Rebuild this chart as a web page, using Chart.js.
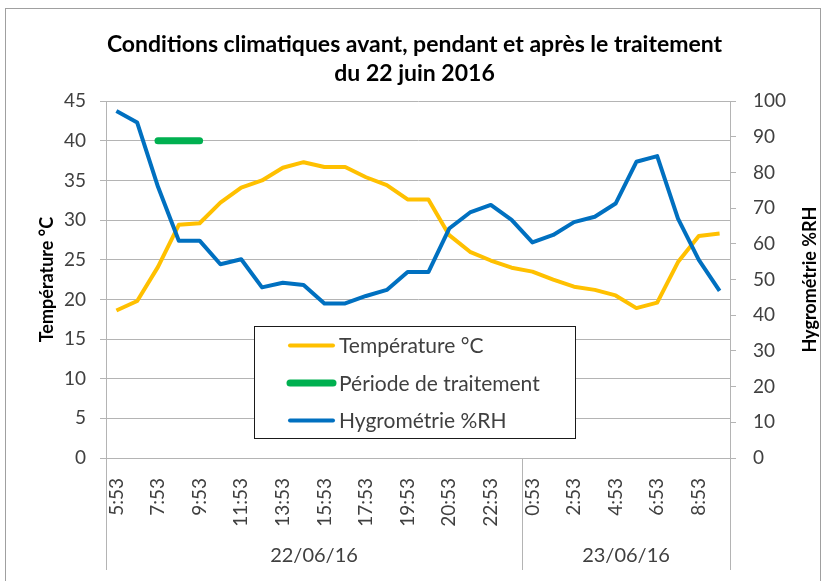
<!DOCTYPE html>
<html>
<head>
<meta charset="utf-8">
<script src="https://cdn.jsdelivr.net/npm/chart.js@4.4.0/dist/chart.umd.min.js"></script>
<style>
  body { margin: 0; background: #fff; }
  #wrap { width: 829px; height: 581px; }
</style>
</head>
<body>
<div id="wrap"><canvas id="myChart" width="829" height="581"></canvas></div>
<script>
//Data
const timeLabels = ["5:53", "6:53", "7:53", "8:53", "9:53", "10:53", "11:53", "12:53", "13:53", "14:53",
  "15:53", "16:53", "17:53", "18:53", "19:53", "20:23", "20:53", "21:53", "22:53", "23:53",
  "0:53", "1:53", "2:53", "3:53", "4:53", "5:53", "6:53", "7:53", "8:53", "9:53"];
const dayLabels = ["22/06/16", "23/06/16"];
const daySpans = [20, 10]; // number of readings per day

const temperature = [18.6, 19.8, 24.1, 29.4, 29.6, 32.2, 34.1, 35.0, 36.6, 37.3,
  36.7, 36.7, 35.4, 34.4, 32.6, 32.6, 28.1, 26.0, 24.9, 24.0,
  23.5, 22.5, 21.6, 21.2, 20.5, 18.9, 19.6, 24.7, 28.0, 28.3];
const treatment = [null, null, 40, 40, 40, null, null, null, null, null,
  null, null, null, null, null, null, null, null, null, null,
  null, null, null, null, null, null, null, null, null, null];
const humidity = [97.2, 94.0, 76.0, 60.9, 60.9, 54.3, 55.7, 47.8, 49.1, 48.5,
  43.3, 43.3, 45.4, 47.1, 52.1, 52.1, 64.3, 68.8, 70.9, 66.7,
  60.4, 62.5, 66.1, 67.6, 71.3, 83.0, 84.6, 67.1, 55.5, 46.8];

const titleLines = ["Conditions climatiques avant, pendant et après le traitement", "du 22 juin 2016"];
const tempTitle = "Température °C";
const humTitle = "Hygrométrie %RH";
const tempTicks = { min: 0, max: 45, step: 5 };
const humTicks = { min: 0, max: 100, step: 10 };

const gridColor = "#b4b4b4";
const textColor = "#404040";

//day boundaries and centres on the index scale
let dayEdges = [-0.5];
let dayCentres = [];
daySpans.forEach(function (n) {
  let start = dayEdges[dayEdges.length - 1];
  dayCentres.push(start + n / 2);
  dayEdges.push(start + n);
});

Chart.defaults.font.family = "Lato";
Chart.defaults.color = textColor;

//white background + outer frame
const framePlugin = {
  id: "frame",
  beforeDraw(chart) {
    const c = chart.ctx;
    c.save();
    c.fillStyle = "#fff";
    c.fillRect(0, 0, chart.width, chart.height);
    c.strokeStyle = "#a0a0a0";
    c.lineWidth = 1;
    c.strokeRect(5.5, 8.5, 815, 620);
    c.restore();
  },
};

//vertical separators of the two-level category axis + right axis title (reads upward like Excel)
const dayLinesPlugin = {
  id: "dayLines",
  afterDraw(chart) {
    const c = chart.ctx;
    const xd = chart.scales.xd;
    const y1 = chart.scales.y1;
    const top = chart.chartArea.bottom;
    c.save();
    c.strokeStyle = gridColor;
    c.lineWidth = 1;
    dayEdges.forEach(function (v) {
      const px = Math.round(xd.getPixelForValue(v)) + 0.5;
      c.beginPath();
      c.moveTo(px, top);
      c.lineTo(px, 570);
      c.stroke();
    });
    c.translate(y1.right - 19, (y1.top + y1.bottom) / 2);
    c.rotate(-Math.PI / 2);
    c.font = "bold 18px Lato";
    c.fillStyle = "#000";
    c.textAlign = "center";
    c.textBaseline = "middle";
    c.fillText(humTitle, 0, 0);
    c.restore();
  },
};

//boxed legend inside the plot
const boxLegendPlugin = {
  id: "boxLegend",
  afterDatasetsDraw(chart) {
    const c = chart.ctx;
    const box = { x: 254.5, y: 326.5, w: 321, h: 112 };
    c.save();
    c.fillStyle = "#fff";
    c.fillRect(box.x, box.y, box.w, box.h);
    c.strokeStyle = "#1a1a1a";
    c.lineWidth = 1;
    c.strokeRect(box.x, box.y, box.w, box.h);
    c.font = "21px Lato";
    c.textBaseline = "middle";
    c.fillStyle = textColor;
    chart.data.datasets.forEach(function (ds, i) {
      const y = box.y + 19 + i * 37.5;
      c.beginPath();
      c.strokeStyle = ds.borderColor;
      c.lineWidth = ds.borderWidth;
      c.lineCap = "round";
      c.moveTo(290, y);
      c.lineTo(333, y);
      c.stroke();
      c.fillText(ds.label, 339, y + 1);
    });
    c.restore();
  },
};

var ctx = document.querySelector("#myChart").getContext("2d");

var myChart = new Chart(ctx, {
  type: "line",
  data: {
    labels: timeLabels,
    datasets: [
      {
        label: "Température °C",
        data: temperature,
        borderColor: "#FFC000",
        borderWidth: 4,
        yAxisID: "y",
        order: 2,
      },
      {
        label: "Période de traitement",
        data: treatment,
        borderColor: "#00B050",
        borderWidth: 7,
        borderCapStyle: "round",
        yAxisID: "y",
        order: 1,
      },
      {
        label: "Hygrométrie %RH",
        data: humidity,
        borderColor: "#0070C0",
        borderWidth: 4,
        yAxisID: "y1",
        order: 0,
      },
    ],
  },
  options: {
    responsive: false,
    animation: false,
    devicePixelRatio: 1,
    layout: { padding: 0 },
    elements: {
      point: { radius: 0 },
      line: { tension: 0, borderJoinStyle: "round" },
    },
    plugins: {
      legend: { display: false },
      tooltip: { enabled: false },
      title: {
        display: true,
        text: titleLines,
        color: "#000",
        font: { size: 23, weight: "bold", lineHeight: 1.22 },
        padding: { top: 31, bottom: 14 },
      },
    },
    scales: {
      x: {
        type: "category",
        position: "bottom",
        offset: true,
        grid: { display: false, drawTicks: false },
        border: { display: true, color: gridColor },
        ticks: {
          autoSkip: false,
          minRotation: 90,
          maxRotation: 90,
          padding: 20,
          font: { size: 19 },
          callback: function (v, i) {
            return i % 2 === 0 ? this.getLabelForValue(v) : "";
          },
        },
        afterFit: function (s) { s.height = 75; },
      },
      xd: {
        type: "linear",
        position: "bottom",
        min: dayEdges[0],
        max: dayEdges[dayEdges.length - 1],
        grid: { display: false, drawTicks: false },
        border: { display: false },
        afterBuildTicks: function (s) {
          s.ticks = dayCentres.map(function (v) { return { value: v }; });
        },
        ticks: {
          padding: 11,
          font: { size: 20 },
          callback: function (v) { return dayLabels[dayCentres.indexOf(v)]; },
        },
        afterFit: function (s) { s.height = 48; },
      },
      y: {
        position: "left",
        min: tempTicks.min,
        max: tempTicks.max,
        ticks: { stepSize: tempTicks.step, padding: 14, font: { size: 19 } },
        grid: { color: gridColor, tickLength: 6 },
        border: { color: gridColor },
        title: {
          display: true,
          text: tempTitle,
          color: "#000",
          font: { size: 18, weight: "bold" },
          padding: { top: 36, bottom: 0 },
        },
        afterFit: function (s) { s.width = 106; },
      },
      y1: {
        position: "right",
        min: humTicks.min,
        max: humTicks.max,
        ticks: { stepSize: humTicks.step, padding: 17, font: { size: 19 } },
        grid: { drawOnChartArea: false, color: gridColor, tickLength: 6 },
        border: { color: gridColor },
        title: { display: false },
        afterFit: function (s) { s.width = 99; },
      },
    },
  },
  plugins: [framePlugin, dayLinesPlugin, boxLegendPlugin],
});
</script>
</body>
</html>
